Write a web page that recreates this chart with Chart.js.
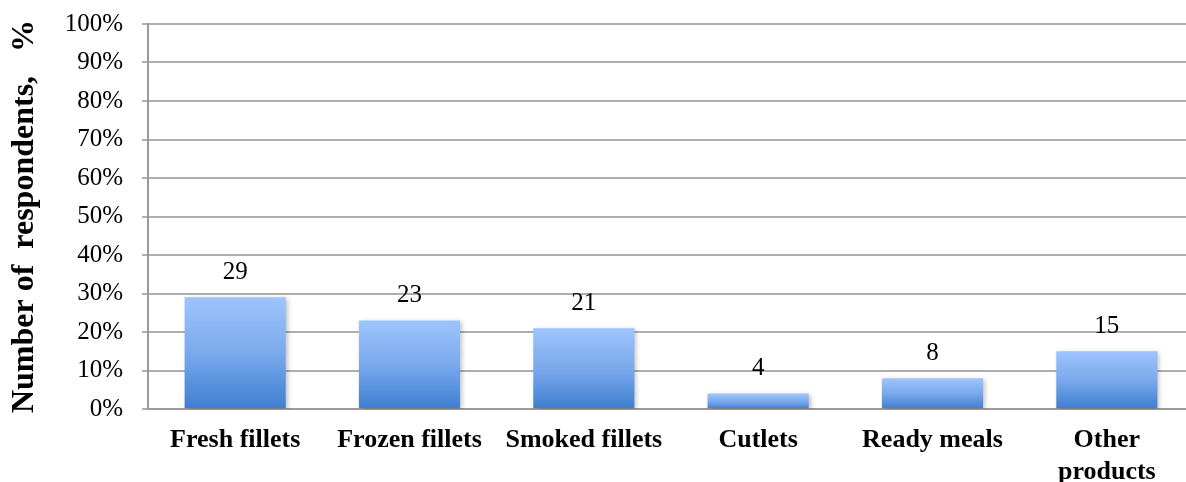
<!DOCTYPE html>
<html>
<head>
<meta charset="utf-8">
<script src="https://cdn.jsdelivr.net/npm/chart.js@4/dist/chart.umd.min.js"></script>
<style>
  html, body { margin: 0; padding: 0; background: #fff; overflow: hidden; }
  #wrap { width: 1194px; height: 482px; position: relative; }
</style>
</head>
<body>
<div id="wrap"><canvas id="chart"></canvas></div>
<script>
const categories = ['Fresh fillets', 'Frozen fillets', 'Smoked fillets', 'Cutlets', 'Ready meals', ['Other', 'products']];
const respondents = [29, 23, 21, 4, 8, 15];
const yTicks = [0, 10, 20, 30, 40, 50, 60, 70, 80, 90, 100];

const serif = "'Liberation Serif', 'Times New Roman', serif";

// vertical blue gradient spanning each bar from its top to the baseline
function barGradient(ctx) {
  const chart = ctx.chart;
  if (!chart.chartArea || ctx.type !== 'data') return '#6b9fe6';
  const y = chart.scales.y;
  const top = y.getPixelForValue(ctx.parsed.y);
  const base = y.getPixelForValue(0);
  const g = chart.ctx.createLinearGradient(0, top, 0, base);
  g.addColorStop(0, '#9ec4fc');
  g.addColorStop(0.5, '#7aa9ec');
  g.addColorStop(1, '#3d7ed0');
  return g;
}

// soft shadow behind the bars
const barShadow = {
  id: 'barShadow',
  beforeDatasetsDraw(chart) {
    const c = chart.ctx;
    c.save();
    c.shadowColor = 'rgba(0,0,0,0.28)';
    c.shadowBlur = 5;
    c.shadowOffsetX = 2;
    c.shadowOffsetY = 2;
  },
  afterDatasetsDraw(chart) {
    chart.ctx.restore();
  }
};

// value printed above each bar
const valueLabels = {
  id: 'valueLabels',
  afterDatasetsDraw(chart) {
    const c = chart.ctx;
    const meta = chart.getDatasetMeta(0);
    c.save();
    c.font = '25px ' + serif;
    c.fillStyle = '#000';
    c.textAlign = 'center';
    c.textBaseline = 'middle';
    meta.data.forEach((bar, i) => {
      c.fillText(String(respondents[i]), bar.x, bar.y - 25);
    });
    c.restore();
  }
};

new Chart(document.getElementById('chart'), {
  type: 'bar',
  data: {
    labels: categories,
    datasets: [{
      data: respondents,
      backgroundColor: barGradient,
      borderWidth: 0,
      categoryPercentage: 1,
      barPercentage: 0.58
    }]
  },
  plugins: [barShadow, valueLabels],
  options: {
    responsive: true,
    maintainAspectRatio: false,
    animation: false,
    layout: { padding: { top: 24, right: 0, bottom: 0, left: 0 } },
    plugins: { legend: { display: false }, tooltip: { enabled: false } },
    scales: {
      x: {
        grid: { display: false, drawTicks: false },
        border: { display: true, color: '#9a9a9a', width: 2 },
        ticks: {
          color: '#000',
          font: { family: serif, size: 26, weight: 'bold', lineHeight: 1.23 },
          padding: 15,
          maxRotation: 0,
          autoSkip: false
        },
        afterFit(scale) { scale.height = 73; }
      },
      y: {
        min: 0,
        max: 100,
        afterBuildTicks(scale) { scale.ticks = yTicks.map(v => ({ value: v })); },
        grid: { color: '#aeaeae', lineWidth: 2, tickLength: 6, drawTicks: true },
        border: { display: true, color: '#9a9a9a', width: 2 },
        ticks: {
          color: '#000',
          font: { family: serif, size: 25 },
          padding: 19,
          callback: v => v + '%'
        },
        title: {
          display: true,
          text: 'Number of  respondents,   %',
          color: '#000',
          font: { family: serif, size: 32, weight: 'bold' },
          padding: { top: 6, bottom: 0 }
        },
        afterFit(scale) {
          scale.width = 148;
          scale.paddingTop = 0;
          scale.paddingBottom = 0;
        }
      }
    }
  }
});
</script>
</body>
</html>
